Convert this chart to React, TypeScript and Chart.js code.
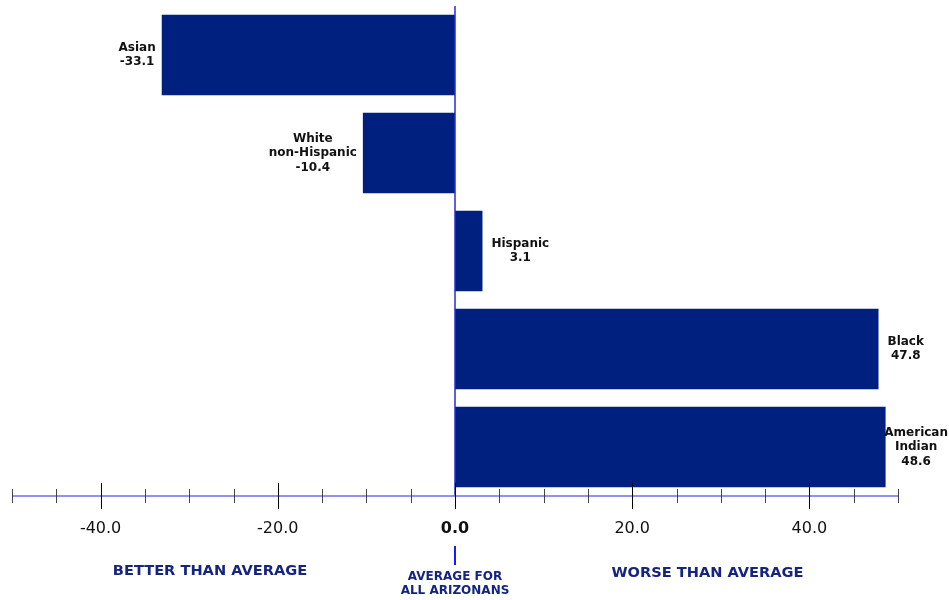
import React, { useEffect, useRef } from 'react';
import { Chart, registerables } from 'chart.js';
Chart.register(...registerables);

const categories: string[][] = [['Asian'], ['White', 'non-Hispanic'], ['Hispanic'], ['Black'], ['American', 'Indian']];
const values: number[] = [-33.1, -10.4, 3.1, 47.8, 48.6];
const majorTicks: number[] = [-40, -20, 0, 20, 40];
const minorTicks: number[] = [-50, -45, -35, -30, -25, -15, -10, -5, 5, 10, 15, 25, 30, 35, 45, 50];
const betterNote = 'BETTER THAN AVERAGE';
const worseNote = 'WORSE THAN AVERAGE';
const centerNote: string[] = ['AVERAGE FOR', 'ALL ARIZONANS'];

const NAVY = '#00207f';
const FONT = '"DejaVu Sans", Verdana, sans-serif';

const overlay = {
  id: 'overlay',
  afterDatasetsDraw(chart: any) {
    const { ctx, chartArea, scales } = chart;
    const x = scales.x;
    const x0 = x.getPixelForValue(0);
    const ay = chartArea.bottom;
    ctx.save();
    // zero reference line
    ctx.strokeStyle = '#2a2ad8';
    ctx.lineWidth = 1.5;
    ctx.beginPath();
    ctx.moveTo(x0, chartArea.top);
    ctx.lineTo(x0, ay);
    ctx.stroke();
    // axis line
    ctx.strokeStyle = '#6d6df2';
    ctx.lineWidth = 1.5;
    ctx.beginPath();
    ctx.moveTo(x.getPixelForValue(-50), ay);
    ctx.lineTo(x.getPixelForValue(50), ay);
    ctx.stroke();
    // ticks
    ctx.lineWidth = 1;
    ctx.strokeStyle = '#444';
    minorTicks.forEach((v) => {
      const px = Math.round(x.getPixelForValue(v)) + 0.5;
      ctx.beginPath();
      ctx.moveTo(px, ay - 7);
      ctx.lineTo(px, ay + 7);
      ctx.stroke();
    });
    ctx.strokeStyle = '#000';
    majorTicks.forEach((v) => {
      const px = Math.round(x.getPixelForValue(v)) + 0.5;
      ctx.beginPath();
      ctx.moveTo(px, ay - 13);
      ctx.lineTo(px, ay + 13);
      ctx.stroke();
    });
    // data labels
    ctx.font = `bold 12px ${FONT}`;
    ctx.fillStyle = '#111';
    ctx.textAlign = 'center';
    ctx.textBaseline = 'middle';
    const meta = chart.getDatasetMeta(0);
    meta.data.forEach((bar: any, i: number) => {
      const lines = [...categories[i], values[i].toFixed(1)];
      const w = Math.max(...lines.map((l) => ctx.measureText(l).width));
      const lh = 14.5;
      let cx: number;
      if (values[i] < 0) cx = bar.x - 6 - w / 2;
      else cx = Math.min(bar.x + 9 + w / 2, chart.width - 1 - w / 2);
      const startY = bar.y - ((lines.length - 1) * lh) / 2;
      lines.forEach((l, j) => ctx.fillText(l, cx, startY + j * lh));
    });
    // marker under zero
    ctx.strokeStyle = '#1a1aff';
    ctx.lineWidth = 2;
    ctx.beginPath();
    ctx.moveTo(x0, 546);
    ctx.lineTo(x0, 565);
    ctx.stroke();
    // notes
    ctx.fillStyle = '#14247f';
    ctx.font = `bold 14.6px ${FONT}`;
    ctx.fillText(betterNote, x.left + (x0 - x.left) * 0.447, 571);
    ctx.fillText(worseNote, x0 + (x.right - x0) * 0.57, 573);
    ctx.font = `bold 12px ${FONT}`;
    ctx.fillText(centerNote[0], x0, 577);
    ctx.fillText(centerNote[1], x0, 591);
    ctx.restore();
  },
};

export default function App() {
  const ref = useRef<HTMLCanvasElement | null>(null);
  useEffect(() => {
    document.body.style.margin = '0';
    Chart.defaults.font.family = FONT;
    const chart = new Chart(ref.current as HTMLCanvasElement, {
      type: 'bar',
      data: {
        labels: categories.map((c) => c.join(' ')),
        datasets: [
          {
            data: values,
            backgroundColor: NAVY,
            borderWidth: 0,
            barPercentage: 0.82,
            categoryPercentage: 1,
          },
        ],
      },
      options: {
        indexAxis: 'y',
        responsive: false,
        animation: false,
        layout: { padding: { left: 12, right: 51, top: 6, bottom: 0 } },
        plugins: { legend: { display: false }, tooltip: { enabled: false } },
        scales: {
          y: { display: false, offset: true },
          x: {
            type: 'linear',
            min: -50,
            max: 50,
            grid: { display: false },
            border: { display: false },
            afterFit: (s: any) => {
              s.height = 104;
              s.paddingLeft = 0;
              s.paddingRight = 0;
            },
            ticks: {
              stepSize: 5,
              autoSkip: false,
              maxRotation: 0,
              padding: 15,
              color: '#111',
              callback: (v: any) => (majorTicks.includes(Number(v)) ? Number(v).toFixed(1) : ''),
              font: (c: any) => ({
                family: FONT,
                size: 16,
                weight: c.tick && c.tick.value === 0 ? 'bold' : 'normal',
              }),
            },
          },
        },
      } as any,
      plugins: [overlay],
    });
    return () => chart.destroy();
  }, []);
  return (
    <div style={{ width: 949, height: 600 }}>
      <canvas ref={ref} width={949} height={600} style={{ display: 'block' }} />
    </div>
  );
}
